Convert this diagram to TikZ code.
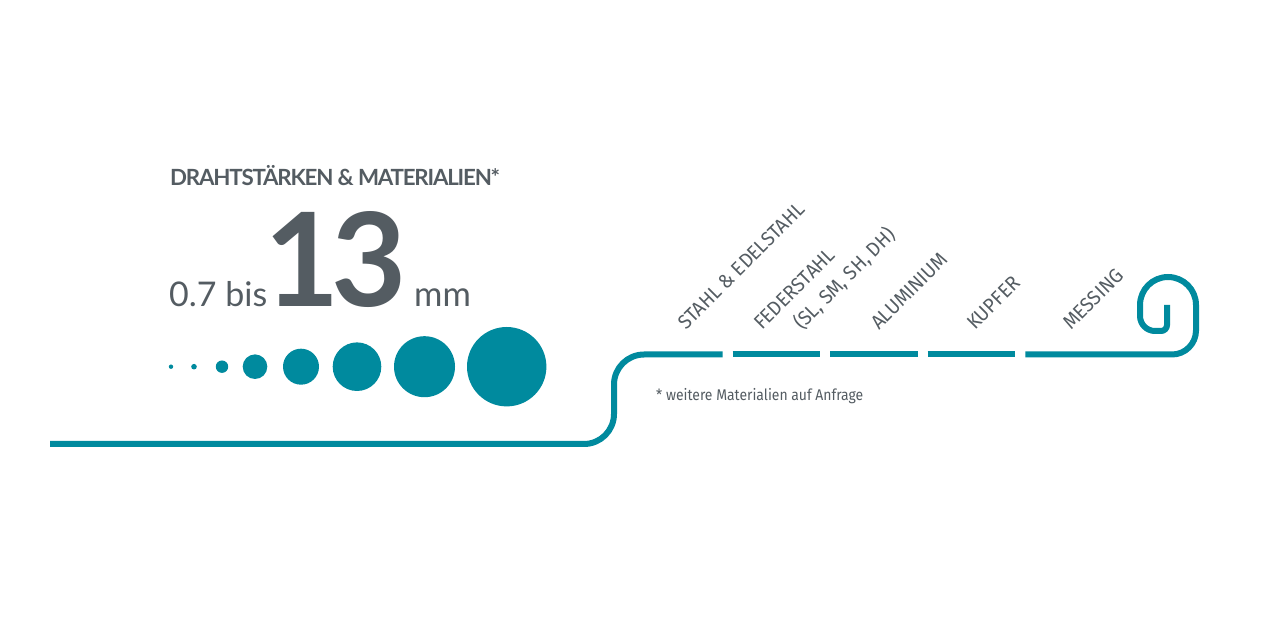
\documentclass[tikz,border=0pt]{standalone}
\usepackage{fontspec}
\setmainfont{Lato}
\newfontfamily\headfont{Lato}[LetterSpace=-5.4]
\IfFontExistsTF{Lato Black}{\newfontfamily\bigfont{Lato Black}[LetterSpace=-6]}{\newfontfamily\bigfont{Lato}[LetterSpace=-6]}
\newfontfamily\labelfont{Fira Sans}[FakeStretch=0.95]
\newfontfamily\notefont{Fira Sans}[FakeStretch=0.9]
\definecolor{teal}{RGB}{0,138,158}
\definecolor{txtgray}{RGB}{84,92,98}
\begin{document}
\begin{tikzpicture}[x=1pt,y=1pt,
  wire/.style={draw=teal,line width=6pt},
  dot/.style={circle,fill=teal,inner sep=0pt},
  lbl/.style={rotate=45,anchor=base west,inner sep=0pt,text=txtgray,font=\labelfont\fontsize{20}{22}\selectfont},
  txt/.style={anchor=base west,inner sep=0pt,text=txtgray}]
\useasboundingbox (0,0) rectangle (1280,640);
\fill[white] (0,0) rectangle (1280,640);
% texts
\node[txt,font=\headfont\bfseries\fontsize{22.3}{26}\selectfont] (head) at (170,454) {DRAHTSTÄRKEN \& MATERIALIEN*};
\node[txt,font=\fontsize{34}{40}\selectfont] (from) at (169,333.3) {0.7 bis};
\node[txt,font=\bigfont\bfseries\fontsize{130}{150}\selectfont] (big) at (264,333.3) {13};
\node[txt,font=\fontsize{34.5}{40}\selectfont] (unit) at (414,333.3) {mm};
% circles
\node[dot,minimum size=4.4pt] (c1) at (171,273.3) {};
\node[dot,minimum size=5.6pt] (c2) at (194,273.3) {};
\node[dot,minimum size=12.4pt] (c3) at (222,273.3) {};
\node[dot,minimum size=24.6pt] (c4) at (255,273.3) {};
\node[dot,minimum size=36pt] (c5) at (301,273.3) {};
\node[dot,minimum size=48.6pt] (c6) at (357,273.3) {};
\node[dot,minimum size=61pt] (c7) at (424.5,273.3) {};
\node[dot,minimum size=79.4pt] (c8) at (506.7,273.3) {};
% wire
\coordinate (w0) at (50,196);
\coordinate (w1) at (614,196);
\coordinate (w2) at (614,285.5);
\coordinate (w3) at (722.7,285.5);
\draw[wire,rounded corners=30pt] (w0) -- (w1) -- (w2) -- (w3);
\coordinate (d1a) at (732.7,285.5); \coordinate (d1b) at (820.3,285.5);
\coordinate (d2a) at (830.3,285.5); \coordinate (d2b) at (917.7,285.5);
\coordinate (d3a) at (927.7,285.5); \coordinate (d3b) at (1015.3,285.5);
\coordinate (d4a) at (1025.3,285.5);
\draw[wire] (d1a) -- (d1b);
\draw[wire] (d2a) -- (d2b);
\draw[wire] (d3a) -- (d3b);
\draw[wire] (d4a) -- (1172,285.5) arc[start angle=-90,end angle=0,radius=24]
  -- (1196,335) arc[start angle=0,end angle=180,radius=28]
  -- (1140,324) arc[start angle=180,end angle=270,radius=15]
  -- (1161,309) arc[start angle=270,end angle=360,radius=6]
  -- (1167,335);
% labels
\node[lbl] (l1) at (686,309) {STAHL \& EDELSTAHL};
\node[lbl] (l2) at (762,309) {FEDERSTAHL};
\node[lbl] (l2b) at (802,309) {(SL, SM, SH, DH)};
\node[lbl] (l3) at (879,309) {ALUMINIUM};
\node[lbl] (l4) at (975,309) {KUPFER};
\node[lbl] (l5) at (1071,309) {MESSING};
\node[txt,font=\notefont\fontsize{15.5}{18}\selectfont] (note) at (656,239.3) {* weitere Materialien auf Anfrage};
\end{tikzpicture}
\end{document}
